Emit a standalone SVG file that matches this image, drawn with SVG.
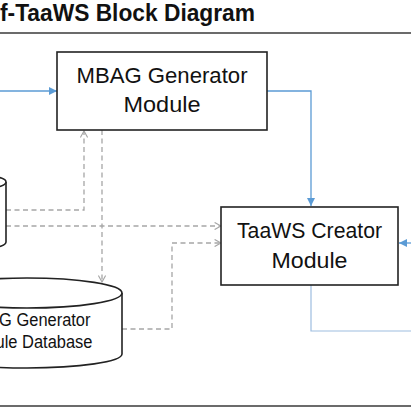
<svg xmlns="http://www.w3.org/2000/svg" width="411" height="411" viewBox="0 0 411 411">
<defs>
<style>
.title{font-family:"Liberation Sans",Arial,sans-serif;font-weight:bold;font-size:23.5px;fill:#111}
.lbl{font-family:"Liberation Sans",Arial,sans-serif;font-size:22px;fill:#111;text-anchor:middle}
.dlbl{font-family:"Liberation Sans",Arial,sans-serif;font-size:17.5px;fill:#111;text-anchor:middle}
.box{fill:#fff;stroke:#222;stroke-width:1.6}
.db{fill:#fff;stroke:#222;stroke-width:1.6}
.rule{stroke:#3a3a3a;stroke-width:1.6}
.dash{fill:none;stroke:#a6a6a6;stroke-width:1.3;stroke-dasharray:5,3.5}
.blue{fill:none;stroke:#5b9bd5;stroke-width:1.3}
.lblue{fill:none;stroke:#9dbde0;stroke-width:1.2}
</style>
<marker id="ab" viewBox="0 0 10 10" refX="10" refY="5" markerWidth="8" markerHeight="8" markerUnits="userSpaceOnUse" orient="auto">
<path d="M0,0 L10,5 L0,10 z" fill="#5b9bd5"/>
</marker>
<marker id="ag" viewBox="0 0 10 10" refX="9" refY="5" markerWidth="8" markerHeight="8" markerUnits="userSpaceOnUse" orient="auto">
<path d="M1,0.5 L9,5 L1,9.5" fill="none" stroke="#a6a6a6" stroke-width="1.4"/>
</marker>
</defs>
<rect width="411" height="411" fill="#fff"/>
<text class="title" x="0" y="21" textLength="255" lengthAdjust="spacingAndGlyphs">f-TaaWS Block Diagram</text>
<line class="rule" x1="0" y1="33" x2="411" y2="33"/>
<line class="rule" x1="0" y1="406" x2="411" y2="406"/>
<g id="connectors">
<line class="blue" x1="0" y1="91" x2="57" y2="91" marker-end="url(#ab)"/>
<polyline class="blue" points="267,91 311,91 311,206" marker-end="url(#ab)"/>
<line class="blue" x1="411" y1="243" x2="399" y2="243" marker-end="url(#ab)"/>
<polyline class="lblue" points="311,285 311,331 411,331"/>
<polyline class="dash" points="6,210 84,210 84,131" marker-end="url(#ag)"/>
<line class="dash" x1="6" y1="226" x2="221" y2="226" marker-end="url(#ag)"/>
<line class="dash" x1="102" y1="130" x2="102" y2="282" marker-end="url(#ag)"/>
<polyline class="dash" points="122,329 172,329 172,243 221,243" marker-end="url(#ag)"/>
</g>
<g id="mbag">
<rect class="box" x="57" y="52" width="210" height="78"/>
<text class="lbl" x="162" y="83" textLength="171" lengthAdjust="spacingAndGlyphs">MBAG Generator</text>
<text class="lbl" x="162" y="112" textLength="77" lengthAdjust="spacingAndGlyphs">Module</text>
</g>
<g id="taaws">
<rect class="box" x="221" y="207" width="177" height="78"/>
<text class="lbl" x="309.5" y="238" textLength="145" lengthAdjust="spacingAndGlyphs">TaaWS Creator</text>
<text class="lbl" x="309.5" y="268" textLength="76" lengthAdjust="spacingAndGlyphs">Module</text>
</g>
<g id="smalldb">
<path class="db" d="M-26,182 L-26,242 A16,5.5 0 0 0 6,242 L6,182"/>
<ellipse class="db" cx="-10" cy="182" rx="16" ry="5.5"/>
</g>
<g id="mbagdb">
<path class="db" d="M-68,293 L-68,354 A95,14 0 0 0 122,354 L122,293"/>
<ellipse class="db" cx="27" cy="293" rx="95" ry="15"/>
<text class="dlbl" x="27" y="326" textLength="127" lengthAdjust="spacingAndGlyphs">MBAG Generator</text>
<text class="dlbl" x="28" y="348" textLength="129" lengthAdjust="spacingAndGlyphs">Module Database</text>
</g>
</svg>
